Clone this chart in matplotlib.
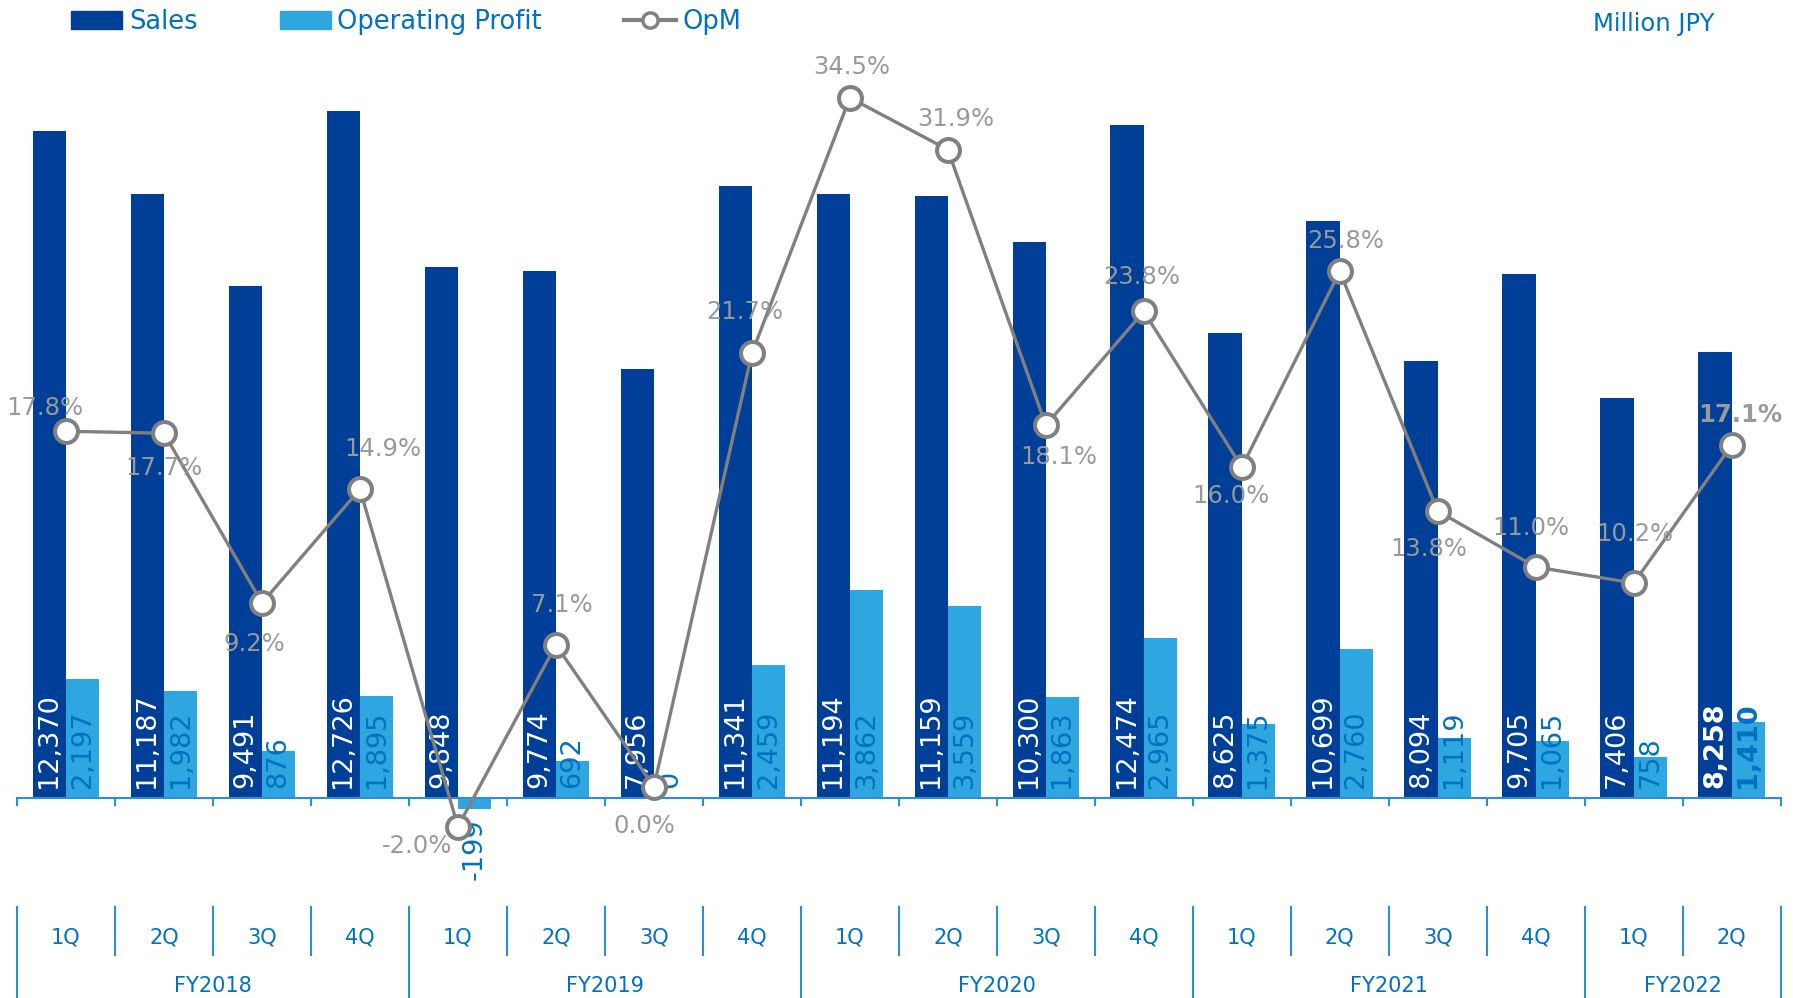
import matplotlib
matplotlib.use("Agg")
import matplotlib.pyplot as plt
from matplotlib.patches import Patch
from matplotlib.lines import Line2D

quarters = ["1Q", "2Q", "3Q", "4Q",
            "1Q", "2Q", "3Q", "4Q",
            "1Q", "2Q", "3Q", "4Q",
            "1Q", "2Q", "3Q", "4Q",
            "1Q", "2Q"]
fiscal_years = ["FY2018", "FY2019", "FY2020", "FY2021", "FY2022"]
fy_lengths = [4, 4, 4, 4, 2]

sales = [12370, 11187, 9491, 12726, 9848, 9774, 7956, 11341, 11194,
         11159, 10300, 12474, 8625, 10699, 8094, 9705, 7406, 8258]
op_profit = [2197, 1982, 876, 1895, -199, 692, 0, 2459, 3862,
             3559, 1863, 2965, 1375, 2760, 1119, 1065, 758, 1410]
opm = [17.8, 17.7, 9.2, 14.9, -2.0, 7.1, 0.0, 21.7, 34.5,
       31.9, 18.1, 23.8, 16.0, 25.8, 13.8, 11.0, 10.2, 17.1]

# label offsets for the OpM line (pixels, x right / y up)
opm_label_offsets = [(-21, 23), (0, -35), (-8, -41), (23, 40), (-41, -19),
                     (6, 40), (-10, -39), (-7, 41), (2, 31), (8, 31),
                     (13, -32), (-2, 34), (-11, -29), (6, 30), (-9, -38),
                     (-5, 39), (1, 49), (9, 30)]

sales_color = "#003f97"
op_color = "#2ea6e0"
text_blue = "#0070c0"
line_gray = "#808080"
label_gray = "#999999"
axis_blue = "#2a8fd4"

W, H = 1793, 998
fig = plt.figure(figsize=(W / 100, H / 100), dpi=100)
ax = fig.add_axes([17 / W, 0, (1780.7 - 17) / W, 1])
ax2 = ax.twinx()

n = len(sales)
x = list(range(n))
bw = 0.34

ax.bar([i - bw / 2 for i in x], sales, width=bw, color=sales_color, zorder=2)
ax.bar([i + bw / 2 for i in x], op_profit, width=bw, color=op_color, zorder=2)

ax.set_xlim(-0.5, n - 0.5)
ax.set_ylim(-200 * 18.535, 798 * 18.535)
ax2.set_ylim(-(H - 786.7) / 19.97, 786.7 / 19.97)

for a in (ax, ax2):
    a.axis("off")

# bar labels
for i in x:
    bold = "bold" if i == n - 1 else "normal"
    ax.annotate(f"{sales[i]:,}", xy=(i - bw / 2, 0), xytext=(0, 10),
                textcoords="offset pixels", rotation=90, ha="center",
                va="bottom", color="white", fontsize=19.5, fontweight=bold,
                zorder=4)
    v = op_profit[i]
    if v < 0:
        ax.annotate(f"{v:,}", xy=(i + bw / 2, v), xytext=(0, -10),
                    textcoords="offset pixels", rotation=90, ha="center",
                    va="top", color=text_blue, fontsize=19.5,
                    fontweight=bold, zorder=4)
    else:
        ax.annotate(f"{v:,}", xy=(i + bw / 2, 0), xytext=(0, 10),
                    textcoords="offset pixels", rotation=90, ha="center",
                    va="bottom", color=text_blue, fontsize=19.5,
                    fontweight=bold, zorder=4)

# OpM line
ax2.plot(x, opm, color=line_gray, lw=2.4, marker="o", ms=16.5,
         mfc="white", mec=line_gray, mew=2.9, zorder=5)
for i in x:
    dx, dy = opm_label_offsets[i]
    bold = "bold" if i == n - 1 else "normal"
    ax2.annotate(f"{opm[i]:.1f}%", xy=(i, opm[i]), xytext=(dx, dy),
                 textcoords="offset pixels", ha="center", va="center",
                 color=label_gray, fontsize=17.5, fontweight=bold, zorder=6)

# baseline and category axis
ax.plot([-0.5, n - 0.5], [0, 0], color=axis_blue, lw=1.5, zorder=3)
trans = ax.get_xaxis_transform()
base_frac = 1 - 798 / H
tick_frac = 1 - 805 / H
sep_top = 1 - 907 / H
sep_q = 1 - 955 / H
for b in range(n + 1):
    ax.plot([b - 0.5, b - 0.5], [base_frac, tick_frac], color=axis_blue,
            lw=1.5, transform=trans, clip_on=False)
fy_bounds = [0]
for L in fy_lengths:
    fy_bounds.append(fy_bounds[-1] + L)
for b in range(n + 1):
    bottom = 0 if b in fy_bounds else sep_q
    ax.plot([b - 0.5, b - 0.5], [sep_top, bottom], color=axis_blue,
            lw=1.5, transform=trans, clip_on=False)
for i, q in enumerate(quarters):
    ax.text(i, 1 - 937.7 / H, q, transform=trans, ha="center", va="center",
            color=text_blue, fontsize=15)
for k, fy in enumerate(fiscal_years):
    c = (fy_bounds[k] + fy_bounds[k + 1] - 1) / 2
    ax.text(c, 1 - 985.7 / H, fy, transform=trans, ha="center",
            va="center", color=text_blue, fontsize=15)

# legend
handles = [Patch(color=sales_color), Patch(color=op_color),
           Line2D([], [], color=line_gray, lw=3, marker="o", ms=11,
                  mfc="white", mec=line_gray, mew=2.5)]
fig.legend(handles, ["Sales", "Operating Profit", "OpM"], loc="upper left",
           bbox_to_anchor=(71 / W, 1 - 9 / H), ncol=3, frameon=False,
           fontsize=18.5, handlelength=2.0, handleheight=0.7,
           handletextpad=0.25, columnspacing=3.2, borderpad=0,
           borderaxespad=0, labelcolor=text_blue)

fig.text(1654 / W, 1 - 24 / H, "Million JPY", ha="center", va="center",
         color=text_blue, fontsize=17.5)

fig.savefig("out.png", dpi=100)
